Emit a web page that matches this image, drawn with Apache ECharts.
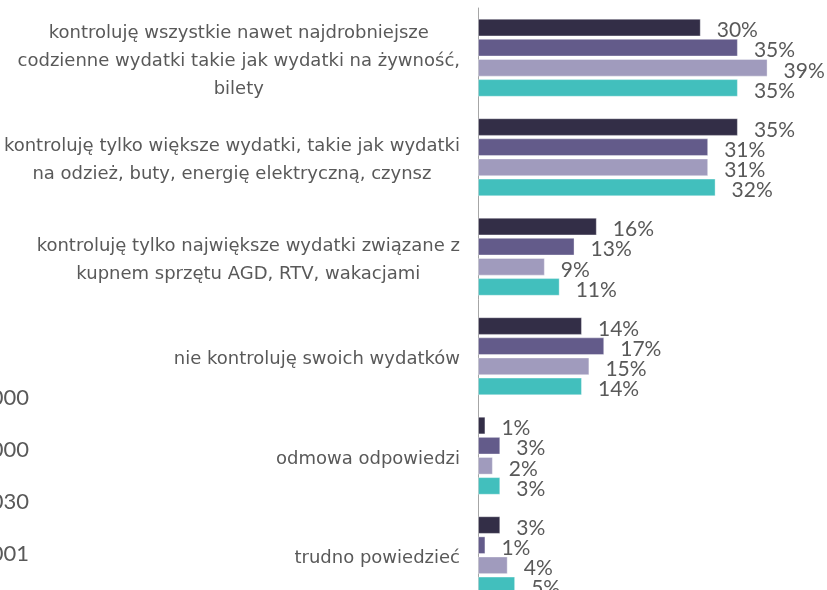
<!DOCTYPE html>
<html>
<head>
<meta charset="utf-8">
<script src="https://cdn.jsdelivr.net/npm/echarts@6/dist/echarts.min.js"></script>
<style>
  html, body { margin: 0; padding: 0; background: #fff; }
  #main { width: 827px; height: 590px; }
</style>
</head>
<body>
<div id="main"></div>
<script>
// kategorie (od góry)
const categories = [
  ['kontroluję wszystkie nawet najdrobniejsze', 'codzienne wydatki takie jak wydatki na żywność,', 'bilety'],
  ['kontroluję tylko większe wydatki, takie jak wydatki', 'na odzież, buty, energię elektryczną, czynsz'],
  ['kontroluję tylko największe wydatki związane z', 'kupnem sprzętu AGD, RTV, wakacjami'],
  ['nie kontroluję swoich wydatków'],
  ['odmowa odpowiedzi'],
  ['trudno powiedzieć']
]
// serie (legenda ucięta z lewej strony)
const seriesNames = ['2009, N=1000', '2010, N=1000', '2011, N=1030', '2012, N=1001']
const values1 = [30, 35, 16, 14, 1, 3]
const values2 = [35, 31, 13, 17, 3, 1]
const values3 = [39, 31, 9, 15, 2, 4]
const values4 = [35, 32, 11, 14, 3, 5]
const colors = ['#332e47', '#635b8a', '#a09bbd', '#42bfbd']

const labelFont = '"DejaVu Sans", sans-serif'
const valueFont = 'Lato, "Noto Sans", sans-serif'
const allValues = [values1, values2, values3, values4]

let myChart = echarts.init(document.getElementById('main'))

myChart.setOption({
  animation: false,
  backgroundColor: '#fff',
  grid: { left: 478, top: 8, width: 297, height: 597, outerBoundsMode: 'none' },
  xAxis: {
    type: 'value',
    min: 0,
    max: 40,
    show: false
  },
  yAxis: {
    type: 'category',
    inverse: true,
    data: categories.map(c => c.join('\n')),
    axisLine: { lineStyle: { color: '#a6a6a6', width: 1 } },
    axisTick: { show: false },
    axisLabel: {
      margin: 18,
      align: 'right',
      padding: [7, 0, 0, 0],
      formatter: v => v.split('\n').map(l => '{c|' + l + '}').join('\n'),
      rich: {
        c: {
          align: 'center',
          fontFamily: labelFont,
          fontSize: 18,
          lineHeight: 28,
          color: '#595959'
        }
      }
    }
  },
  series: allValues.map((vals, i) => ({
    name: seriesNames[i],
    type: 'bar',
    data: vals,
    barGap: '14%',
    barCategoryGap: '21.6%',
    itemStyle: { color: colors[i], borderColor: 'rgba(255,255,255,0.35)', borderWidth: 1 },
    label: {
      show: true,
      position: 'right',
      distance: 16,
      offset: [0, 3],
      formatter: '{c}%',
      fontFamily: valueFont,
      fontSize: 21,
      color: '#595959'
    }
  })),
  graphic: seriesNames.map((n, i) => ({
    type: 'text',
    right: 798,
    top: 387 + i * 52,
    style: {
      text: n,
      fontFamily: valueFont,
      fontSize: 22,
      fill: '#595959'
    }
  }))
})
</script>
</body>
</html>
